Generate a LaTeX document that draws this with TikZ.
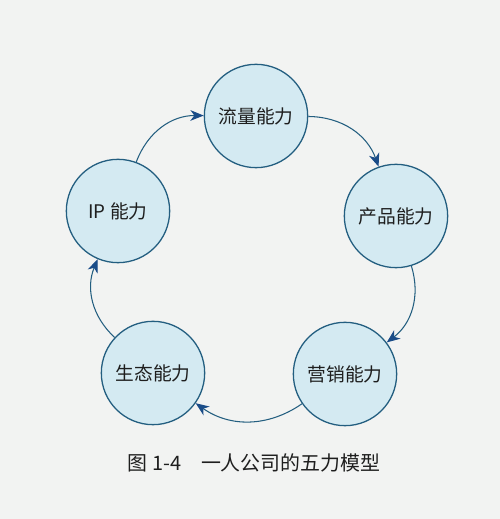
\documentclass[tikz,border=0pt]{standalone}
\usepackage{fontspec}
\newfontfamily\cjk{Noto Sans CJK SC}
\usetikzlibrary{arrows.meta}
\definecolor{paper}{HTML}{F2F3F2}
\definecolor{ringfill}{HTML}{D4EAF2}
\definecolor{ringline}{HTML}{235E80}
\definecolor{arrowblue}{HTML}{1A4C88}
\definecolor{ink}{HTML}{1E1E1E}

\begin{document}
\begin{tikzpicture}[x=.3mm,y=.3mm]

      \fill[paper] (0,0) rectangle (500,519);
      \useasboundingbox (0,0) rectangle (500,519);

      \begin{scope}[every node/.style={circle,draw=ringline,fill=ringfill,line width=1.1pt,
          minimum size=3.1cm,inner sep=0pt,text=ink,font=\cjk\fontsize{16}{19}\selectfont}]
        \node (1) at (256,403) {流量能力};
        \node (2) at (396,303) {产品能力};
        \node (3) at (345,145) {营销能力};
        \node (4) at (153,146) {生态能力};
        \node (5) at (118,308) {IP 能力};
      \end{scope}

      \begin{scope}[every edge/.style={draw=ringline,line width=.9pt,
          -{Stealth[length=4mm,width=3.2mm,inset=1.2mm,color=arrowblue]}}]
        \path (5) edge[bend left=35] (1);
        \path (1) edge[bend left=35] (2);
        \path (2) edge[bend left=35] (3);
        \path (3) edge[bend left=35] (4);
        \path (4) edge[bend left=35] (5);
      \end{scope}

      \node[text=ink,font=\cjk\fontsize{17}{20}\selectfont] (6) at (254,56) {图 1-4\quad 一人公司的五力模型};

    \end{tikzpicture}
\end{document}
